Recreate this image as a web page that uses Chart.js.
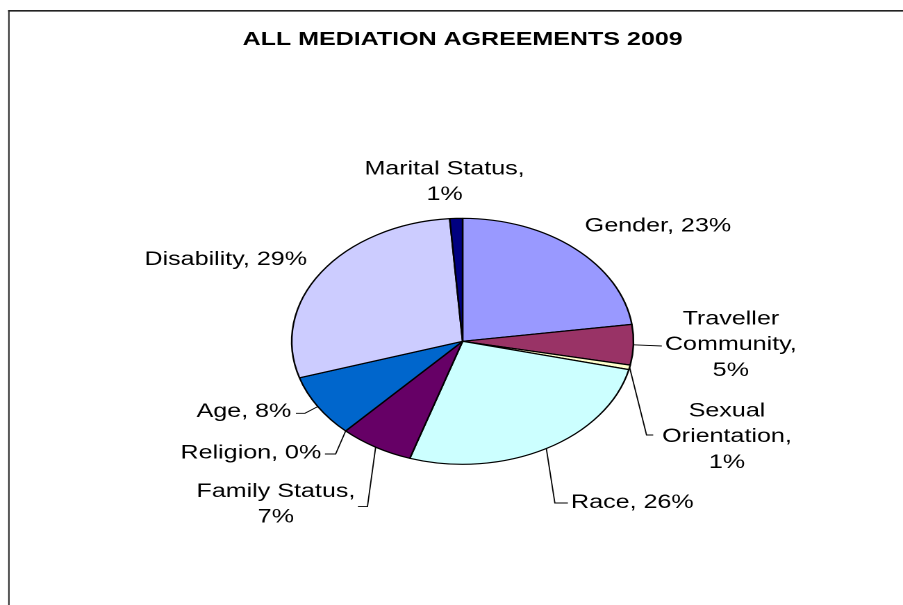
<!DOCTYPE html>
<html>
<head>
<meta charset="utf-8">
<script src="https://cdn.jsdelivr.net/npm/chart.js@4/dist/chart.umd.min.js"></script>
<style>
html,body{margin:0;padding:0;background:#fff;overflow:hidden;}
#wrap{width:650px;height:605px;transform:scaleX(1.3892);transform-origin:0 0;}
</style>
</head>
<body>
<div id="wrap"><canvas id="c" width="650" height="605"></canvas></div>
<script>
// ---- data ----
const categories = ["Gender", "Traveller Community", "Sexual Orientation", "Race", "Family Status", "Religion", "Age", "Disability", "Marital Status"];
const shares = [22.8, 5.3, 0.6, 26.3, 7.0, 0, 8.2, 28.6, 1.2];
const chartTitle = "ALL MEDIATION AGREEMENTS 2009";

// ---- styles / layout ----
const sliceColors = ["#9999FF", "#993366", "#FFFFCC", "#CCFFFF", "#660066", "#FF8080", "#0066CC", "#CCCCFF", "#000080"];
// label block centre, relative to pie centre (unstretched px)
const labelCentre = [[140.6,-114.8],[193.1,3.7],[190.3,95.7],[122.2,161.4],[-134.4,163.2],[-152.4,112],[-157.4,70.7],[-170.5,-81.7],[-13,-159.3]];
const labelWrap = [200,100,100,200,120,200,200,200,120];
// leader lines: [corner, end] relative to pie centre, or null
const leaders = [null, [null,[143.4,4.7]], [[132.4,93.7],[137.2,93.7]], [[66.4,161.7],[75.8,161.7]], [[-68.5,165.3],[-75.4,165.3]], [[-91.4,112.7],[-99.1,112.7]], [[-113.5,72],[-120,72]], null, null];
const LABEL_FONT = "19px 'Liberation Sans', Arial, sans-serif";
const LABEL_SX = 0.95;
const LINE_H = 25.8;

const total = shares.reduce((a,b)=>a+b,0);

function wrapText(ctx, text, maxW){
  const words = text.split(' ');
  const lines = [];
  let cur = '';
  words.forEach(w => {
    const t = cur ? cur + ' ' + w : w;
    if (cur && ctx.measureText(t).width * LABEL_SX > maxW) { lines.push(cur); cur = w; }
    else cur = t;
  });
  if (cur) lines.push(cur);
  return lines;
}

const framePlugin = {
  id: 'frame',
  afterDraw(chart){
    const ctx = chart.ctx;
    ctx.save();
    ctx.strokeStyle = '#222';
    ctx.lineWidth = 1.7;
    ctx.beginPath(); ctx.moveTo(5.8, 10.8); ctx.lineTo(chart.width, 10.8); ctx.stroke();
    ctx.lineWidth = 1.0;
    ctx.beginPath(); ctx.moveTo(6.4, 10); ctx.lineTo(6.4, chart.height); ctx.stroke();
    ctx.restore();
  }
};

const labelPlugin = {
  id: 'pieLabels',
  afterDatasetsDraw(chart){
    const ctx = chart.ctx;
    const meta = chart.getDatasetMeta(0);
    ctx.save();
    ctx.font = LABEL_FONT;
    ctx.fillStyle = '#000';
    ctx.textAlign = 'center';
    ctx.textBaseline = 'middle';
    meta.data.forEach((arc, i) => {
      const p = arc.getProps(['x','y','startAngle','endAngle','outerRadius'], true);
      const mid = (p.startAngle + p.endAngle) / 2;
      const ex = p.x + Math.cos(mid) * p.outerRadius;
      const ey = p.y + Math.sin(mid) * p.outerRadius;
      const ld = leaders[i];
      if (ld) {
        ctx.strokeStyle = '#000';
        ctx.lineWidth = 0.9;
        ctx.beginPath();
        ctx.moveTo(ex, ey);
        if (ld[0]) ctx.lineTo(p.x + ld[0][0], p.y + ld[0][1]);
        ctx.lineTo(p.x + ld[1][0], p.y + ld[1][1]);
        ctx.stroke();
      }
      const pct = Math.round(shares[i] / total * 100);
      const text = categories[i] + ', ' + pct + '%';
      const lines = wrapText(ctx, text, labelWrap[i]);
      const cx = p.x + labelCentre[i][0];
      const cy = p.y + labelCentre[i][1];
      lines.forEach((ln, k) => {
        ctx.save();
        ctx.translate(cx, cy + (k - (lines.length - 1) / 2) * LINE_H);
        ctx.scale(LABEL_SX, 1);
        ctx.fillText(ln, 0, 0);
        ctx.restore();
      });
    });
    ctx.restore();
  }
};

new Chart(document.getElementById('c'), {
  type: 'pie',
  data: {
    labels: categories,
    datasets: [{
      data: shares,
      backgroundColor: sliceColors,
      borderColor: '#000',
      borderWidth: 1.2,
      radius: 123
    }]
  },
  options: {
    responsive: false,
    devicePixelRatio: 2,
    animation: false,
    events: [],
    layout: { padding: { left: 16, right: 0, top: 0, bottom: 0 } },
    plugins: {
      legend: { display: false },
      tooltip: { enabled: false },
      title: {
        display: true,
        text: chartTitle,
        color: '#000',
        font: { family: "'Liberation Sans', Arial, sans-serif", size: 18, weight: 'bold' },
        padding: { top: 29, bottom: 27 }
      }
    }
  },
  plugins: [labelPlugin, framePlugin]
});
</script>
</body>
</html>
